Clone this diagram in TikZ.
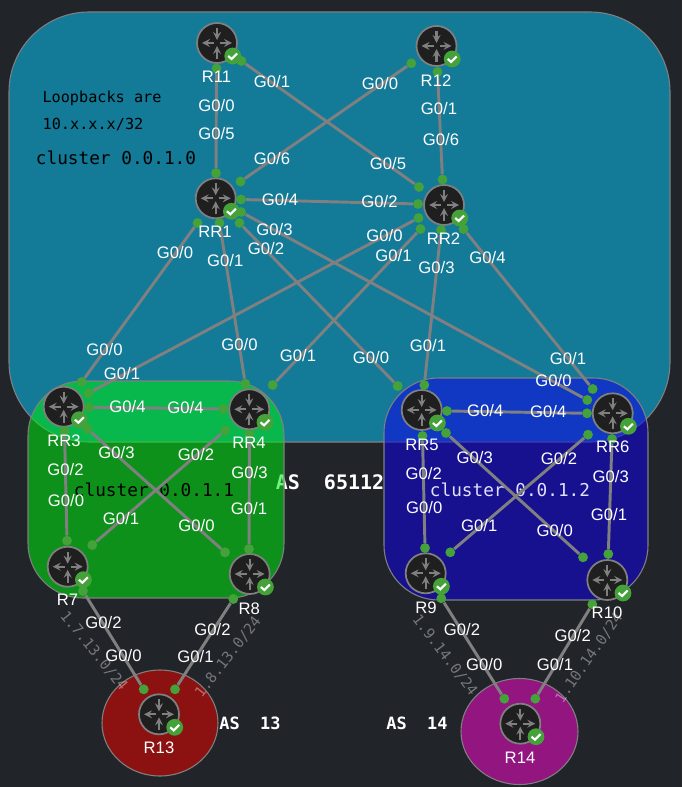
\documentclass[tikz,border=0pt]{standalone}
\usepackage{fontspec}
\setmainfont{Liberation Sans}
\setmonofont{DejaVu Sans Mono}
\usetikzlibrary{arrows,positioning,shapes,calc,backgrounds}
\definecolor{pagebg}{HTML}{212429}
\definecolor{asblue}{HTML}{137A98}
\definecolor{clgreen}{HTML}{00EC11}
\definecolor{clblue}{HTML}{0F02E5}
\definecolor{asred}{HTML}{8C1212}
\definecolor{aspurple}{HTML}{921580}
\definecolor{portgreen}{HTML}{45A23A}
\definecolor{linkgray}{HTML}{808080}
\begin{document}
\begin{tikzpicture}[x=.75pt,y=-.75pt,
    regionedge/.style={draw=linkgray,line width=.8pt},
    routerbox/.style={circle,draw=linkgray,fill=black!88,line width=1.3pt,inner sep=0pt,minimum size=30pt,
      path picture={
        \begin{scope}[shift={(path picture bounding box.center)},draw=linkgray,line width=1.6pt]
          \draw[-stealth] (0,-15)--(0,-3);
          \draw[-stealth] (0,16)--(0,3);
          \draw[-stealth] (-3,0)--(-15,0);
          \draw[-stealth] (3,0)--(15,0);
        \end{scope}}},
    okbadge/.style={circle,fill=portgreen,inner sep=0pt,minimum size=12.6pt,
      path picture={
        \draw[white,line width=1.6pt,shift={(path picture bounding box.center)}] (-4.5,0)--(-1,3)--(4.5,-2.5);}},
    portdot/.style={circle,fill=portgreen,inner sep=0pt,minimum size=7.4pt},
    linkline/.style={draw=linkgray,line width=2.2pt},
    hostlabel/.style={text=white,font=\fontsize{12.5}{13}\selectfont,inner sep=0pt},
    portlabel/.style={text=white,font=\fontsize{12.5}{13}\selectfont,inner sep=0pt},
    monotext/.style={font=\ttfamily\fontsize{11.4}{12}\selectfont,inner sep=0pt},
    clustertext/.style={font=\ttfamily\fontsize{13.3}{14}\selectfont,inner sep=0pt},
    astext/.style={text=white,font=\ttfamily\bfseries\fontsize{12.7}{14}\selectfont,inner sep=0pt},
    nettext/.style={text=white,text opacity=.38,font=\ttfamily\fontsize{11}{12}\selectfont,inner sep=0pt}]
    \useasboundingbox (0,0) rectangle (682,787);
    \fill[pagebg] (0,0) rectangle (682,787);

    \path[fill=asblue,regionedge,rounded corners=60pt] (9,12) rectangle (670,442);
    \node[monotext] (loopa) at (102,98.5) {Loopbacks are};
    \node[monotext] (loopb) at (93,125) {10.x.x.x/32};
    \node[clustertext] (cl0) at (116,157.5) {cluster 0.0.1.0};
    \node[astext,font=\ttfamily\bfseries\fontsize{15}{16}\selectfont] (as65112) at (330,482) {AS\ \ 65112};
    \node[astext] (as13) at (250,723) {AS\ \ 13};
    \node[astext] (as14) at (417,723) {AS\ \ 14};

    \path[fill=clgreen,fill opacity=.55,regionedge,rounded corners=41pt] (28,381) rectangle (284,598);
    \path[fill=clblue,fill opacity=.55,regionedge,rounded corners=41pt] (384,378) rectangle (648,600);
    \path[fill=asred,regionedge] (160,723) ellipse [x radius=58,y radius=53];
    \path[fill=aspurple,regionedge] (519.5,731.5) ellipse [x radius=58.5,y radius=53];
    \node[clustertext] (cl1) at (154,490) {cluster 0.0.1.1};
    \node[clustertext,text=white!88!blue] (cl2) at (510,489.5) {cluster 0.0.1.2};

    \node[routerbox] (R11) at (217,43) {};
    \node[routerbox] (R12) at (436.5,46) {};
    \node[routerbox] (RR1) at (215.7,198.3) {};
    \node[routerbox] (RR2) at (444,205) {};
    \node[routerbox] (RR3) at (63.7,406.7) {};
    \node[routerbox] (RR4) at (249.3,409.3) {};
    \node[routerbox] (RR5) at (421.7,410) {};
    \node[routerbox] (RR6) at (612.7,413.3) {};
    \node[routerbox] (R7) at (67.7,566.7) {};
    \node[routerbox] (R8) at (249.7,574) {};
    \node[routerbox] (R9) at (425.7,573.3) {};
    \node[routerbox] (R10) at (607.3,580) {};
    \node[routerbox] (R13) at (159,714.3) {};
    \node[routerbox] (R14) at (520.3,723.7) {};

    \node[okbadge] (R11ok) at ([shift={(15.7,13)}]R11) {};
    \node[okbadge] (R12ok) at ([shift={(15.7,13)}]R12) {};
    \node[okbadge] (RR1ok) at ([shift={(15.7,13)}]RR1) {};
    \node[okbadge] (RR2ok) at ([shift={(15.7,13)}]RR2) {};
    \node[okbadge] (RR3ok) at ([shift={(15.7,13)}]RR3) {};
    \node[okbadge] (RR4ok) at ([shift={(15.7,13)}]RR4) {};
    \node[okbadge] (RR5ok) at ([shift={(15.7,13)}]RR5) {};
    \node[okbadge] (RR6ok) at ([shift={(15.7,13)}]RR6) {};
    \node[okbadge] (R7ok) at ([shift={(15.7,13)}]R7) {};
    \node[okbadge] (R8ok) at ([shift={(15.7,13)}]R8) {};
    \node[okbadge] (R9ok) at ([shift={(15.7,13)}]R9) {};
    \node[okbadge] (R10ok) at ([shift={(15.7,13)}]R10) {};
    \node[okbadge] (R13ok) at ([shift={(15.7,13)}]R13) {};
    \node[okbadge] (R14ok) at ([shift={(15.7,13)}]R14) {};

    \node[portdot] (R11a) at (216.5,68.5) {};
    \node[portdot] (R11b) at (241.5,61) {};
    \node[portdot] (R12a) at (411.3,63.3) {};
    \node[portdot] (R12b) at (437.5,72) {};
    \node[portdot] (RR1top) at (216,173) {};
    \node[portdot] (RR1g6) at (240.5,181.5) {};
    \node[portdot] (RR1g4) at (241,199.5) {};
    \node[portdot] (RR1g3) at (241,212) {};
    \node[portdot] (RR1g2) at (239.5,223) {};
    \node[portdot] (RR1g1) at (219.5,223) {};
    \node[portdot] (RR1g0) at (197.5,223) {};
    \node[portdot] (RR2top) at (442.5,179.5) {};
    \node[portdot] (RR2g5) at (419,187) {};
    \node[portdot] (RR2g2) at (418,204) {};
    \node[portdot] (RR2g0) at (418.5,218) {};
    \node[portdot] (RR2g1) at (420.5,229) {};
    \node[portdot] (RR2g3) at (441,230) {};
    \node[portdot] (RR2g4) at (463.5,229) {};
    \node[portdot] (RR3g0) at (81.7,382) {};
    \node[portdot] (RR3g1) at (88.7,393) {};
    \node[portdot] (RR3g4) at (89,407.3) {};
    \node[portdot] (RR3g3) at (87.5,429) {};
    \node[portdot] (RR3g2) at (64.5,431) {};
    \node[portdot] (RR4g0) at (245.3,383.7) {};
    \node[portdot] (RR4g1) at (272.7,385) {};
    \node[portdot] (RR4g4) at (223.5,409) {};
    \node[portdot] (RR4g2) at (225,430.5) {};
    \node[portdot] (RR4g3) at (249.5,434.3) {};
    \node[portdot] (RR5g0) at (397.7,386) {};
    \node[portdot] (RR5g1) at (424.3,385) {};
    \node[portdot] (RR5g4) at (447,411) {};
    \node[portdot] (RR5g3) at (446,433) {};
    \node[portdot] (RR5g2) at (422.5,436) {};
    \node[portdot] (RR6g1) at (592.7,389) {};
    \node[portdot] (RR6g0) at (587.3,400) {};
    \node[portdot] (RR6g4) at (587,413.3) {};
    \node[portdot] (RR6g2) at (588,434.7) {};
    \node[portdot] (RR6g3) at (612,439) {};
    \node[portdot] (R7top) at (67,540.7) {};
    \node[portdot] (R7g1) at (92.3,545) {};
    \node[portdot] (R7g2) at (83,591) {};
    \node[portdot] (R8top) at (249,549) {};
    \node[portdot] (R8g0) at (225,552.3) {};
    \node[portdot] (R8g2) at (233.3,599) {};
    \node[portdot] (R9top) at (425,548) {};
    \node[portdot] (R9g1) at (450.3,552.3) {};
    \node[portdot] (R9g2) at (441.3,598.3) {};
    \node[portdot] (R10top) at (608.3,554) {};
    \node[portdot] (R10g0) at (583,557.3) {};
    \node[portdot] (R10g2) at (592.3,604.3) {};
    \node[portdot] (R13g0) at (143.7,689.3) {};
    \node[portdot] (R13g1) at (175,689.3) {};
    \node[portdot] (R14g0) at (504.3,698.7) {};
    \node[portdot] (R14g1) at (535.3,698.7) {};

    \draw[linkline] (R11a)--(RR1top);
    \draw[linkline] (R11b)--(RR2g5);
    \draw[linkline] (R12a)--(RR1g6);
    \draw[linkline] (R12b)--(RR2top);
    \draw[linkline] (RR1g4)--(RR2g2);
    \draw[linkline] (RR1g3)--(RR6g0);
    \draw[linkline] (RR1g2)--(RR5g0);
    \draw[linkline] (RR1g1)--(RR4g0);
    \draw[linkline] (RR1g0)--(RR3g0);
    \draw[linkline] (RR2g0)--(RR3g1);
    \draw[linkline] (RR2g1)--(RR4g1);
    \draw[linkline] (RR2g3)--(RR5g1);
    \draw[linkline] (RR2g4)--(RR6g1);
    \draw[linkline] (RR3g4)--(RR4g4);
    \draw[linkline] (RR3g3)--(R8g0);
    \draw[linkline] (RR3g2)--(R7top);
    \draw[linkline] (RR4g2)--(R7g1);
    \draw[linkline] (RR4g3)--(R8top);
    \draw[linkline] (RR5g4)--(RR6g4);
    \draw[linkline] (RR5g3)--(R10g0);
    \draw[linkline] (RR5g2)--(R9top);
    \draw[linkline] (RR6g2)--(R9g1);
    \draw[linkline] (RR6g3)--(R10top);
    \draw[linkline] (R7g2)--(R13g0);
    \draw[linkline] (R8g2)--(R13g1);
    \draw[linkline] (R9g2)--(R14g0);
    \draw[linkline] (R10g2)--(R14g1);

    \node[hostlabel] (R11name) at (216.5,77) {R11};
    \node[hostlabel] (R12name) at (436,81) {R12};
    \node[hostlabel] (RR1name) at (215,232) {RR1};
    \node[hostlabel] (RR2name) at (443.5,238.5) {RR2};
    \node[hostlabel] (RR3name) at (64,440.5) {RR3};
    \node[hostlabel] (RR4name) at (249,443) {RR4};
    \node[hostlabel] (RR5name) at (422,444.5) {RR5};
    \node[hostlabel] (RR6name) at (612.7,447) {RR6};
    \node[hostlabel] (R7name) at (67.5,600) {R7};
    \node[hostlabel] (R8name) at (249.3,608.3) {R8};
    \node[hostlabel] (R9name) at (426,608) {R9};
    \node[hostlabel] (R10name) at (607,613) {R10};
    \node[hostlabel] (R13name) at (159,748) {R13};
    \node[hostlabel] (R14name) at (520,757.5) {R14};

    \node[portlabel] (p1) at (272,82) {G0/1};
    \node[portlabel] (p2) at (216.5,106) {G0/0};
    \node[portlabel] (p3) at (216.5,133.5) {G0/5};
    \node[portlabel] (p4) at (272,158.5) {G0/6};
    \node[portlabel] (p5) at (280,199.5) {G0/4};
    \node[portlabel] (p6) at (274.5,229.5) {G0/3};
    \node[portlabel] (p7) at (266,249) {G0/2};
    \node[portlabel] (p8) at (175,253) {G0/0};
    \node[portlabel] (p9) at (225.3,261) {G0/1};
    \node[portlabel] (p10) at (380,84) {G0/0};
    \node[portlabel] (p11) at (439,109) {G0/1};
    \node[portlabel] (p12) at (441,140) {G0/6};
    \node[portlabel] (p13) at (388,164) {G0/5};
    \node[portlabel] (p14) at (379.5,202) {G0/2};
    \node[portlabel] (p15) at (384.5,235.5) {G0/0};
    \node[portlabel] (p16) at (393.5,256) {G0/1};
    \node[portlabel] (p17) at (436.5,267.5) {G0/3};
    \node[portlabel] (p18) at (487.5,258) {G0/4};
    \node[portlabel] (p19) at (104.5,349.5) {G0/0};
    \node[portlabel] (p20) at (122,374) {G0/1};
    \node[portlabel] (p21) at (239.5,345) {G0/0};
    \node[portlabel] (p22) at (298,356) {G0/1};
    \node[portlabel] (p23) at (371,358) {G0/0};
    \node[portlabel] (p24) at (428,346) {G0/1};
    \node[portlabel] (p25) at (568,358.5) {G0/1};
    \node[portlabel] (p26) at (553.5,381) {G0/0};
    \node[portlabel] (p27) at (127.5,406.5) {G0/4};
    \node[portlabel] (p28) at (185.5,407.5) {G0/4};
    \node[portlabel] (p29) at (116.5,453) {G0/3};
    \node[portlabel] (p30) at (196,454.5) {G0/2};
    \node[portlabel] (p31) at (65.5,469.5) {G0/2};
    \node[portlabel] (p32) at (66,501) {G0/0};
    \node[portlabel] (p33) at (249.5,472.5) {G0/3};
    \node[portlabel] (p34) at (249,509) {G0/1};
    \node[portlabel] (p35) at (121,519) {G0/1};
    \node[portlabel] (p36) at (196.5,525.5) {G0/0};
    \node[portlabel] (p37) at (103.5,623) {G0/2};
    \node[portlabel] (p38) at (123.5,656) {G0/0};
    \node[portlabel] (p39) at (212.5,630) {G0/2};
    \node[portlabel] (p40) at (195.5,656.5) {G0/1};
    \node[portlabel] (p41) at (485.3,411) {G0/4};
    \node[portlabel] (p42) at (548.3,412) {G0/4};
    \node[portlabel] (p43) at (474.7,457.5) {G0/3};
    \node[portlabel] (p44) at (559,458.7) {G0/2};
    \node[portlabel] (p45) at (423.7,474) {G0/2};
    \node[portlabel] (p46) at (424.3,508) {G0/0};
    \node[portlabel] (p47) at (610.7,477) {G0/3};
    \node[portlabel] (p48) at (609,515) {G0/1};
    \node[portlabel] (p49) at (479.3,526) {G0/1};
    \node[portlabel] (p50) at (554.7,531) {G0/0};
    \node[portlabel] (p51) at (462,630) {G0/2};
    \node[portlabel] (p52) at (484.3,665) {G0/0};
    \node[portlabel] (p53) at (572.7,636) {G0/2};
    \node[portlabel] (p54) at (555,665) {G0/1};

    \node[nettext,rotate=-51] (net1) at (94,651) {1.7.13.0/24};
    \node[nettext,rotate=52] (net2) at (228,657) {1.8.13.0/24};
    \node[nettext,rotate=-53] (net3) at (445,655) {1.9.14.0/24};
    \node[nettext,rotate=55] (net4) at (589,658) {1.10.14.0/24};
  \end{tikzpicture}
\end{document}
